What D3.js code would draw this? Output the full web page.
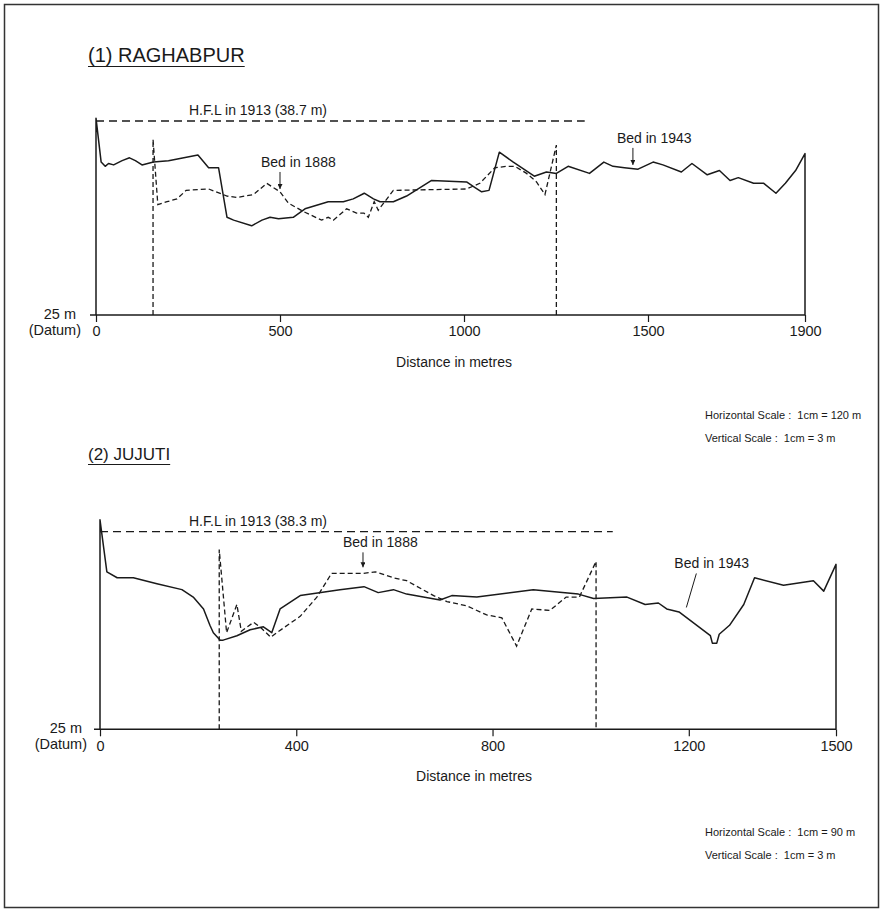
<!DOCTYPE html>
<html lang="en">

<head>
	<meta charset="UTF-8">
	<title>river cross sections</title>
	<script type="text/javascript" src="https://cdn.jsdelivr.net/npm/d3@7/dist/d3.min.js" charset="UTF-8"></script>
	<style>
		body { margin: 0; background: #fff; }
		text { font-family: "Liberation Sans", Arial, sans-serif; fill: #1a1a1a; }
	</style>
</head>

<body>
	<script type="text/javascript">
	// (1) Raghabpur  [distance m, level m]
	let ragBed1943 = [
		[0, 25], [0, 38.9], [14, 35.8], [25, 35.5], [34, 35.7], [48, 35.6], [71, 35.9], [91, 36.1],
		[107, 35.9], [125, 35.6], [156, 35.8], [197, 35.9], [277, 36.3], [306, 35.4], [333, 35.4],
		[356, 31.9], [374, 31.7], [423, 31.3], [451, 31.7], [473, 31.9], [496, 31.8], [536, 31.9],
		[568, 32.5], [631, 33.0], [672, 33.0], [699, 33.2], [729, 33.6], [754, 33.2], [772, 33.0],
		[808, 33.0], [844, 33.4], [912, 34.5], [1007, 34.4], [1030, 34.0], [1048, 33.7], [1068, 33.8],
		[1096, 36.5], [1134, 35.8], [1191, 34.8], [1224, 35.1], [1251, 35.0], [1283, 35.5], [1341, 35.0],
		[1380, 35.8], [1405, 35.5], [1436, 35.4], [1473, 35.3], [1513, 35.8], [1538, 35.6], [1585, 35.1],
		[1612, 35.7], [1651, 34.9], [1682, 35.2], [1709, 34.5], [1730, 34.7], [1769, 34.3], [1795, 34.3],
		[1826, 33.6], [1850, 34.3], [1876, 35.2], [1900, 36.4], [1900, 25]
	]
	let ragBed1888 = [
		[155, 25], [155, 37.4], [168, 32.8], [193, 33.0], [220, 33.2], [245, 33.8], [306, 33.9],
		[356, 33.4], [383, 33.3], [428, 33.5], [464, 34.3], [500, 33.7], [523, 32.9], [564, 32.3],
		[613, 31.7], [631, 31.9], [645, 31.7], [681, 32.5], [708, 32.2], [728, 32.2], [740, 31.9],
		[756, 33.0], [767, 32.4], [808, 33.8], [1007, 33.9], [1043, 34.3], [1084, 35.4], [1116, 35.5],
		[1138, 35.5], [1170, 35.0], [1197, 34.4], [1220, 33.5], [1251, 37.0], [1251, 25]
	]
	let ragHfl = { level: 38.7, from: 0, to: 1328 }
	let ragTicks = [0, 500, 1000, 1500, 1900]

	// (2) Jujuti
	let jujBed1943 = [
		[0, 25], [0, 39.1], [14, 35.6], [35, 35.2], [68, 35.2], [116, 34.8], [167, 34.4], [190, 33.9],
		[211, 33.1], [224, 32.0], [231, 31.5], [245, 31.0], [251, 31.0], [279, 31.3], [306, 31.7],
		[333, 31.9], [350, 31.5], [367, 33.1], [408, 34.0], [489, 34.4], [538, 34.6], [567, 34.2],
		[598, 34.4], [625, 34.1], [693, 33.7], [717, 34.0], [768, 33.9], [883, 34.4], [975, 34.1],
		[1006, 33.8], [1074, 33.9], [1111, 33.4], [1138, 33.5], [1155, 33.1], [1180, 32.9], [1244, 31.3],
		[1248, 30.8], [1257, 30.8], [1262, 31.4], [1283, 32.0], [1312, 33.4], [1334, 35.2], [1393, 34.7],
		[1454, 35.0], [1475, 34.3], [1500, 36.1], [1500, 25]
	]
	let jujBed1888 = [
		[243, 25], [243, 37.1], [258, 31.5], [279, 33.4], [288, 31.6], [313, 32.2], [326, 31.9],
		[348, 31.2], [360, 31.5], [408, 32.6], [442, 33.9], [472, 35.5], [537, 35.5], [561, 35.6],
		[598, 35.2], [625, 35.0], [680, 34.0], [707, 33.6], [748, 33.3], [788, 32.7], [819, 32.5],
		[849, 30.6], [880, 33.1], [917, 33.0], [950, 33.9], [977, 33.9], [1011, 36.3], [1011, 25]
	]
	let jujHfl = { level: 38.3, from: 0, to: 1045 }
	let jujTicks = [0, 400, 800, 1200, 1500]

	let ink = '#1a1a1a'

	let svg = d3.select('body').append('svg')
		.attr('width', 883)
		.attr('height', 912)

	svg.append('rect')
		.attr('x', 4.5).attr('y', 4.5)
		.attr('width', 874).attr('height', 903)
		.attr('fill', 'none')
		.attr('stroke', '#333')
		.attr('stroke-width', 1.5)

	let defs = svg.append('defs')
	defs.append('marker')
		.attr('id', 'head')
		.attr('viewBox', '0 0 8 8')
		.attr('refX', 8).attr('refY', 4)
		.attr('markerWidth', 5).attr('markerHeight', 5)
		.attr('markerUnits', 'userSpaceOnUse')
		.attr('orient', 'auto')
		.append('path')
		.attr('d', 'M0,0 L8,4 L0,8 z')
		.attr('fill', ink)

	function panel(o) {
		let g = svg.append('g')
		let x = o.x, y = o.y
		let line = d3.line().x(d => x(d[0])).y(d => y(d[1]))

		// title, underlined
		let t = g.append('text')
			.attr('x', 88).attr('y', o.titleY)
			.attr('font-size', o.titleSize)
			.text(o.title)
		let tw = t.node().getComputedTextLength()
		g.append('line')
			.attr('x1', 88).attr('x2', 88 + tw)
			.attr('y1', o.titleY + 4.5).attr('y2', o.titleY + 4.5)
			.attr('stroke', ink).attr('stroke-width', 1.2)

		// baseline + ticks
		let base = y(25)
		g.append('line')
			.attr('x1', x(0) - 6).attr('x2', x(o.ticks[o.ticks.length - 1]))
			.attr('y1', base).attr('y2', base)
			.attr('stroke', ink).attr('stroke-width', 1.4)
		let ax = g.append('g')
			.attr('transform', 'translate(0,' + base + ')')
			.call(d3.axisBottom(x).tickValues(o.ticks).tickFormat(d3.format('d'))
				.tickSize(7).tickSizeOuter(0).tickPadding(4))
		ax.select('.domain').remove()
		ax.selectAll('line').attr('stroke', ink).attr('stroke-width', 1.2)
		ax.selectAll('text')
			.attr('font-family', '"Liberation Sans", Arial, sans-serif')
			.attr('font-size', 14.5)
			.attr('fill', ink)

		g.append('text')
			.attr('x', x(0) - o.datumGap).attr('y', base + 4)
			.attr('text-anchor', 'end').attr('font-size', 14.5)
			.text('25 m')
		g.append('text')
			.attr('x', x(0) - o.datumGap + 5).attr('y', base + 20)
			.attr('text-anchor', 'end').attr('font-size', 14.5)
			.text('(Datum)')

		g.append('text')
			.attr('x', o.xLabelX).attr('y', base + 52)
			.attr('text-anchor', 'middle').attr('font-size', 14)
			.text('Distance in metres')

		// high flood level
		g.append('path')
			.attr('d', line([[o.hfl.from, o.hfl.level], [o.hfl.to, o.hfl.level]]))
			.attr('fill', 'none').attr('stroke', ink)
			.attr('stroke-width', 1.3).attr('stroke-dasharray', '8,5')
		g.append('text')
			.attr('x', 258).attr('y', y(o.hfl.level) - 6)
			.attr('text-anchor', 'middle').attr('font-size', 14)
			.text('H.F.L in 1913 (' + o.hfl.level + ' m)')

		// beds
		g.append('path')
			.attr('d', line(o.old))
			.attr('fill', 'none').attr('stroke', ink)
			.attr('stroke-width', 1.3).attr('stroke-dasharray', '5,3')
		g.append('path')
			.attr('d', line(o.now))
			.attr('fill', 'none').attr('stroke', ink)
			.attr('stroke-width', 1.5).attr('stroke-linejoin', 'round')

		// labels with pointers
		o.notes.forEach(n => {
			let tx = x(n.at[0]), ty = y(n.at[1])
			g.append('line')
				.attr('x1', tx + n.dx).attr('y1', ty - n.len)
				.attr('x2', tx).attr('y2', ty)
				.attr('stroke', ink).attr('stroke-width', 1)
				.attr('marker-end', n.head ? 'url(#head)' : null)
			g.append('text')
				.attr('x', tx + n.dx + n.tx).attr('y', ty - n.len - 5)
				.attr('font-size', 14)
				.text(n.text)
		})

		// scale note
		let sc = g.append('text')
			.attr('font-size', 11)
			.attr('xml:space', 'preserve')
			.style('white-space', 'pre')
		sc.append('tspan').attr('x', 705).attr('y', o.scaleY).text(o.hScale)
		sc.append('tspan').attr('x', 705).attr('y', o.scaleY + 23).text('Vertical Scale :  1cm = 3 m')
	}

	panel({
		title: '(1) RAGHABPUR', titleY: 62, titleSize: 20,
		x: d3.scaleLinear().domain([0, 1500, 1900]).range([96, 648, 805]),
		y: d3.scaleLinear().domain([25, 38.7]).range([315, 121]),
		ticks: ragTicks, datumGap: 20, xLabelX: 454,
		hfl: ragHfl, old: ragBed1888, now: ragBed1943,
		notes: [
			{ text: 'Bed in 1888', at: [500, 33.9], dx: 0, len: 17, tx: -19, head: true },
			{ text: 'Bed in 1943', at: [1459, 35.6], dx: 0, len: 17, tx: -16, head: true }
		],
		hScale: 'Horizontal Scale :  1cm = 120 m', scaleY: 419
	})

	panel({
		title: '(2) JUJUTI', titleY: 460, titleSize: 17,
		x: d3.scaleLinear().domain([0, 1500]).range([100, 836]),
		y: d3.scaleLinear().domain([25, 38.3]).range([729.3, 531.7]),
		ticks: jujTicks, datumGap: 18, xLabelX: 474,
		hfl: jujHfl, old: jujBed1888, now: jujBed1943,
		notes: [
			{ text: 'Bed in 1888', at: [536, 35.9], dx: 0, len: 15, tx: -20, head: true },
			{ text: 'Bed in 1943', at: [1195, 33.2], dx: 10, len: 34, tx: -22, head: false }
		],
		hScale: 'Horizontal Scale :  1cm = 90 m', scaleY: 836
	})
	</script>
</body>

</html>
